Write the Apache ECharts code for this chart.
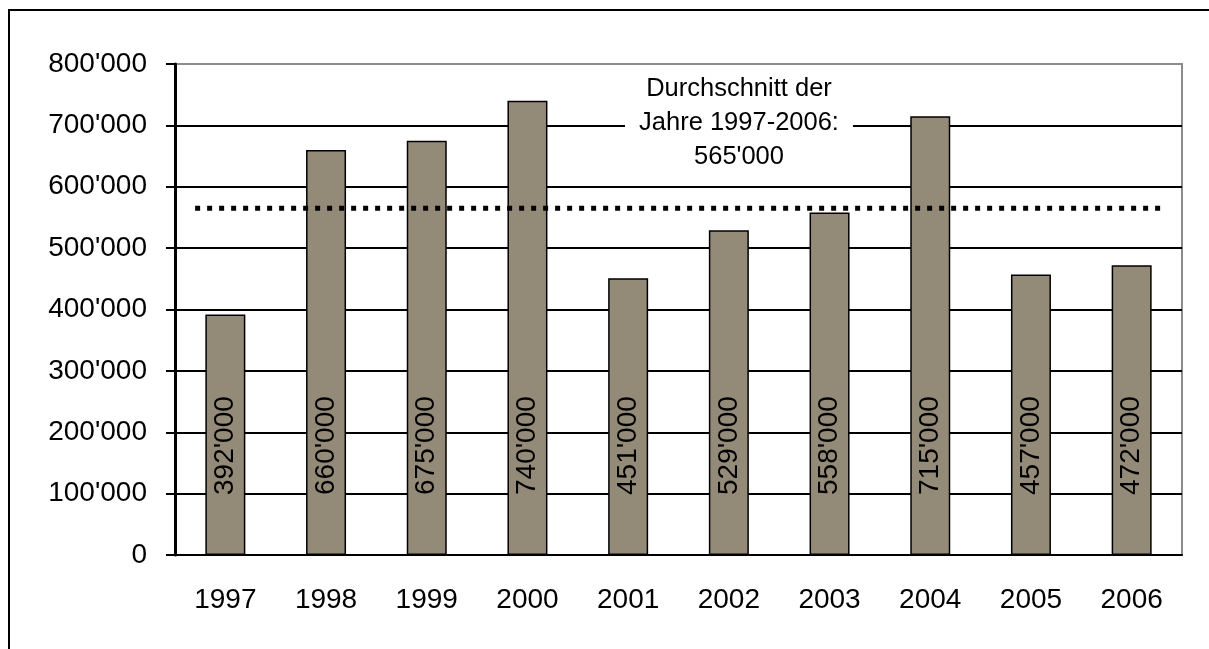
<!DOCTYPE html>
<html>
<head>
  <meta charset="utf-8">
  <title>Durchschnitt 1997-2006</title>
  <style>
    html, body { margin: 0; padding: 0; background: #fff; }
    #main { width: 1209px; height: 649px; }
  </style>
</head>
<body>
  <div id="main"></div>
<script src="https://cdn.jsdelivr.net/npm/echarts@6/dist/echarts.min.js"></script>
<script>
// Daten
const years = ['1997', '1998', '1999', '2000', '2001', '2002', '2003', '2004', '2005', '2006'];
const values = [392000, 660000, 675000, 740000, 451000, 529000, 558000, 715000, 457000, 472000];
const average = 565000;
const avgSpan = [0.2, 9.8]; // Anfang/Ende der Durchschnittslinie (in Kategorien)
const avgText = 'Durchschnitt der\nJahre 1997-2006:\n565\'000';

const font = '"Liberation Sans", Arial, sans-serif';

function fmt(v) {
  return String(v).replace(/\B(?=(\d{3})+(?!\d))/g, "'");
}

let myChart = echarts.init(document.querySelector('#main'));

let option = {
  animation: false,
  textStyle: { fontFamily: font },
  grid: {
    left: 175, top: 64, right: 27, bottom: 94,
    show: true, borderColor: '#8c8c8c', borderWidth: 2,
    backgroundColor: 'transparent'
  },
  xAxis: [{
    type: 'category',
    data: years,
    axisLine: { lineStyle: { color: '#000', width: 2 } },
    axisTick: { length: 10, lineStyle: { color: '#000', width: 2 } },
    axisLabel: { color: '#000', fontSize: 28, fontFamily: font, margin: 31 }
  }, {
    type: 'value',
    min: 0, max: 10,
    show: false
  }],
  yAxis: {
    type: 'value',
    min: 0, max: 800000, interval: 100000,
    axisLine: { show: true, lineStyle: { color: '#000', width: 3 } },
    axisTick: { show: true, length: 9, lineStyle: { color: '#000', width: 2 } },
    axisLabel: { color: '#000', fontSize: 28, fontFamily: font, margin: 28, formatter: fmt },
    splitLine: { show: true, showMaxLine: false, lineStyle: { color: '#000', width: 2 } }
  },
  series: [{
    type: 'bar',
    data: values,
    barWidth: 40,
    itemStyle: { color: '#948a78', borderColor: '#000', borderWidth: 1.5 },
    label: {
      show: true,
      position: 'insideBottom',
      distance: 60,
      rotate: 90,
      align: 'left',
      verticalAlign: 'middle',
      color: '#000',
      fontSize: 28,
      fontFamily: font,
      formatter: p => fmt(p.value)
    }
  }, {
    type: 'line',
    xAxisIndex: 1,
    data: [[avgSpan[0], average], [avgSpan[1], average]],
    symbol: 'none',
    lineStyle: { color: '#000', width: 5, type: [5, 7] },
    z: 5
  }],
  graphic: [{
    type: 'rect',
    shape: { x: 9, y: 10, width: 1400, height: 900 },
    style: { fill: 'none', stroke: '#000', lineWidth: 2 },
    silent: true
  }, {
    type: 'text',
    x: 739, y: 123,
    z: 10,
    style: {
      text: avgText,
      fontSize: 25.5,
      fontFamily: font,
      lineHeight: 34,
      fill: '#000',
      align: 'center',
      verticalAlign: 'middle',
      backgroundColor: '#fff',
      padding: [2, 14]
    }
  }]
};
myChart.setOption(option);
</script>
</body>
</html>
